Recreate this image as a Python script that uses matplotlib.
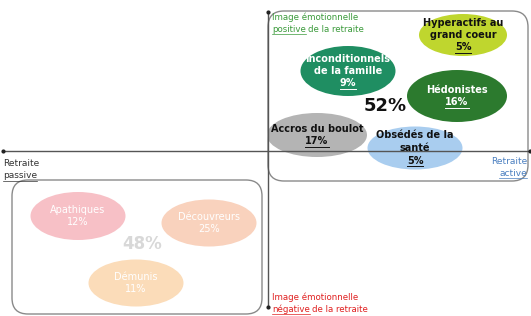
import matplotlib
matplotlib.use("Agg")
import matplotlib.pyplot as plt
from matplotlib.patches import Ellipse, FancyBboxPatch

# segments
names = ["Hyperactifs au\ngrand coeur", "Inconditionnels\nde la famille", "Hédonistes",
         "Accros du boulot", "Obsédés de la\nsanté",
         "Apathiques", "Découvreurs", "Démunis"]
pcts = [5, 9, 16, 17, 5, 12, 25, 11]
totals = ["52%", "48%"]

# layout in pixel coordinates
centers = [(463, 35), (348, 71), (457, 96), (317, 135), (415, 148),
           (78, 216), (209, 223), (136, 283)]
sizes = [(88, 42), (95, 50), (100, 52), (100, 44), (95, 43),
         (95, 48), (95, 47), (95, 47)]
fills = ["#bfd62e", "#1f8e62", "#2c7a2e", "#b4b4b4", "#a9cdef",
         "#f7c0c6", "#f9d2bd", "#fbdcb9"]
txtcol = ["#111111", "white", "white", "#111111", "#111111",
          "white", "white", "white"]

fig = plt.figure(figsize=(5.31, 3.16), dpi=100)
ax = fig.add_axes([0, 0, 1, 1])
ax.set_xlim(0, 531)
ax.set_ylim(316, 0)
ax.axis("off")
renderer = fig.canvas.get_renderer()
inv = ax.transData.inverted()


def extent(t):
    bb = t.get_window_extent(renderer)
    (x0, y0), (x1, y1) = inv.transform([(bb.x0, bb.y0), (bb.x1, bb.y1)])
    return x0, x1, y0  # y0 is bottom (larger y, axis inverted)


def underline(t, color, lw=0.6, off=-0.5):
    x0, x1, yb = extent(t)
    ax.plot([x0, x1], [yb + off, yb + off], color=color, lw=lw)


# rounded boxes
ax.add_patch(FancyBboxPatch((268, 11), 260, 170, boxstyle="round,pad=0,rounding_size=16",
                            fc="none", ec="#8a8a8a", lw=1.0))
ax.add_patch(FancyBboxPatch((12, 180), 250, 134, boxstyle="round,pad=0,rounding_size=16",
                            fc="none", ec="#8a8a8a", lw=1.0))

# axes lines
ax.plot([3, 530], [151, 151], color="#555555", lw=1.0)
ax.plot([268, 268], [12, 307], color="#555555", lw=1.0)
ax.plot([3, 530], [151, 151], "o", color="#222222", ms=2)
ax.plot([268, 268], [12, 307], "o", color="#222222", ms=2)

for i in range(len(names)):
    cx, cy = centers[i]
    w, h = sizes[i]
    ax.add_patch(Ellipse((cx, cy), w, h, fc=fills[i], ec="none"))
    lines = names[i].split("\n") + ["%d%%" % pcts[i]]
    n = len(lines)
    wt = "bold" if i < 5 else "normal"
    step = 12.5 if i < 5 else 12
    for k, ln in enumerate(lines):
        t = ax.text(cx, cy + (k - (n - 1) / 2) * step, ln, ha="center", va="center",
                    fontsize=7, fontweight=wt, color=txtcol[i])
        if k == n - 1 and i < 5:
            underline(t, txtcol[i], lw=0.7, off=0.5)

ax.text(385, 106, totals[0], ha="center", va="center", fontsize=13,
        fontweight="bold", color="#111111")
ax.text(142, 244, totals[1], ha="center", va="center", fontsize=12,
        fontweight="bold", color="#d8d8d8")


def corner(x, y, first, word, rest, color, fs, ha="left"):
    ax.text(x, y, first, fontsize=fs, color=color, va="center", ha=ha)
    if ha == "left":
        t = ax.text(x, y + 12, word, fontsize=fs, color=color, va="center", ha="left")
        underline(t, color, lw=0.5, off=0.3)
        if rest:
            x1 = extent(t)[1]
            ax.text(x1 + 2, y + 12, rest, fontsize=fs, color=color, va="center", ha="left")
    else:
        t = ax.text(x, y + 12, word, fontsize=fs, color=color, va="center", ha="right")
        underline(t, color, lw=0.5, off=0.3)


corner(272, 17, "Image émotionnelle", "positive", "de la retraite", "#3a9a3a", 6.2)
corner(272, 297, "Image émotionnelle", "négative", "de la retraite", "#e02020", 6.2)
corner(3, 164, "Retraite", "passive", "", "#333333", 6.5)
corner(527, 161, "Retraite", "active", "", "#4a7fc0", 6.5, ha="right")

fig.savefig("out.png", dpi=100)
